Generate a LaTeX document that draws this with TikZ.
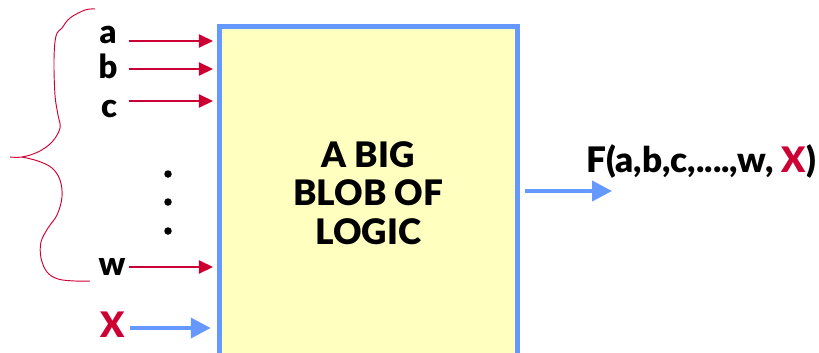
\documentclass[tikz,border=0pt]{standalone}
\usepackage{fontspec}
\setmainfont{Lato}[BoldFont={Lato Black}]
\usetikzlibrary{arrows.meta,positioning}
\definecolor{wirered}{HTML}{CC0033}
\definecolor{wireblue}{HTML}{6699FF}
\definecolor{blobfill}{HTML}{FFFFC0}
\tikzset{
  blobbox/.style={draw=wireblue,fill=blobfill,line width=4.3pt,
                  minimum width=8.95cm,minimum height=10cm,inner sep=0pt,
                  align=center,font=\fontsize{30}{33}\selectfont\bfseries},
  inlabel/.style={font=\fontsize{28}{28}\selectfont\bfseries,anchor=base,inner sep=0pt},
  inarr/.style={-{Triangle[length=12pt,width=11pt]},line width=2.1pt,color=wirered,shorten >=3pt},
  bigarr/.style={-{Triangle[length=17pt,width=17pt]},line width=3.4pt,color=wireblue},
  bracered/.style={draw=wirered,line width=0.8pt}
}
\begin{document}
\begin{tikzpicture}[x=0.03cm,y=-0.03cm]
  \useasboundingbox (0,0) rectangle (819,352);
  % the logic block
  \node[blobbox] (blob) at (368.25,193) {A BIG\\BLOB OF\\LOGIC};
  % named inputs
  \foreach \n/\lx/\ly/\ay in {a/108/43/41,b/108/78/69,c/109/117/101,w/112/275/267} {
    \node[inlabel] (l\n) at (\lx,\ly) {\n};
    \coordinate (s\n) at (129,\ay);
    \draw[inarr] (s\n) -- (s\n -| blob.west);
  }
  \foreach \dy in {174,202,231}
    \fill (168,\dy) circle (3.2pt);
  % the extra input
  \node[inlabel,font=\fontsize{30}{30}\selectfont\bfseries,text=wirered] (lx) at (113,337) {X};
  \coordinate (sx) at (130,328);
  \draw[bigarr,shorten >=5pt] (sx) -- (sx -| blob.west);
  % output
  \coordinate (fo) at (612,191);
  \draw[bigarr,shorten <=4pt] (fo -| blob.east) -- (fo);
  \node[inlabel,anchor=base west,font=\fontsize{30}{30}\selectfont\bfseries] (fl) at (586,172) {F(a,b,c,....,w, {\color{wirered}X})};
  % brace over the inputs
  \draw[bracered] plot[smooth,tension=0.6] coordinates {(95,9) (85,10) (70,18) (62,28) (56,36) (54,60) (55,95) (58,115) (60,128) (52,142) (38,152) (22,157) (10,157)};
  \draw[bracered] plot[smooth,tension=0.6] coordinates {(22,157) (38,161) (52,168) (60,180) (62,197) (57,215) (48,228) (41,242) (41,258) (47,272) (58,279) (75,281) (90,281)};
\end{tikzpicture}
\end{document}
